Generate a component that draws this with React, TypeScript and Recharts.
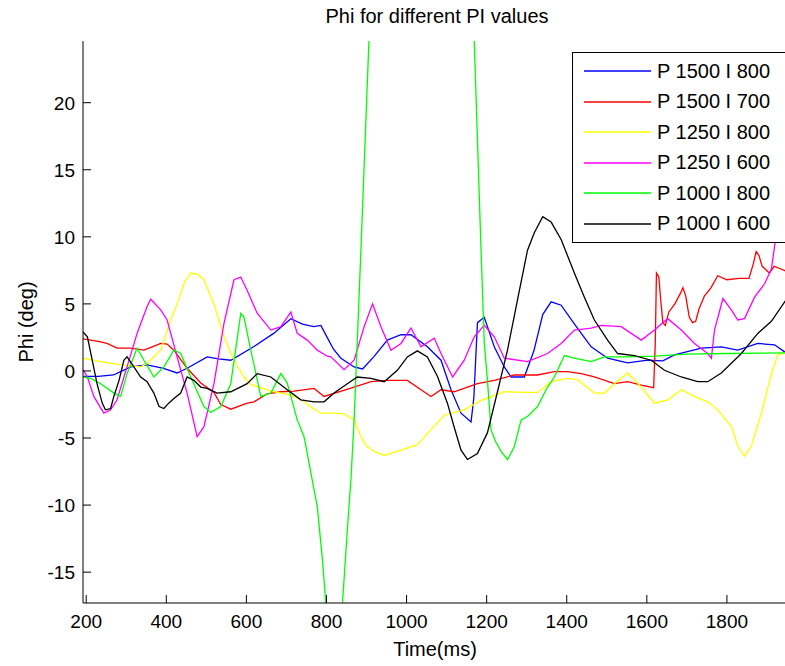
import { LineChart, Line, XAxis, YAxis, Legend } from "recharts";

// [time (ms), phi (deg)]
const p1500i800: [number, number][] = [
  [192, -0.4], [230, -0.4], [268, -0.3], [290, 0.0], [311, 0.3], [352, 0.45], [393, 0.2],
  [427, -0.15], [452, 0.2], [502, 1.05], [530, 0.9], [561, 0.8], [618, 1.8], [668, 2.8],
  [711, 3.9], [740, 3.5], [768, 3.3], [786, 3.4], [800, 2.6], [818, 1.6], [836, 0.95],
  [869, 0.3], [890, 0.15], [918, 1.05], [952, 2.3], [986, 2.7], [1011, 2.7], [1052, 1.8],
  [1086, 0.8], [1111, -1.4], [1136, -3.15], [1161, -3.8], [1168, -2.0], [1177, 3.6],
  [1194, 4.0], [1219, 1.8], [1244, 0.3], [1261, -0.45], [1294, -0.45], [1318, 1.5],
  [1340, 4.2], [1361, 5.15], [1386, 4.9], [1418, 3.55], [1461, 1.8], [1502, 0.95],
  [1552, 0.6], [1602, 0.8], [1640, 0.75], [1669, 1.2], [1736, 1.7], [1786, 1.8],
  [1827, 1.55], [1877, 2.05], [1919, 1.95], [1950, 1.3],
];

const p1500i700: [number, number][] = [
  [192, 2.4], [230, 2.2], [252, 2.05], [277, 1.7], [311, 1.7], [344, 1.55], [365, 1.8],
  [386, 2.05], [402, 2.0], [419, 1.55], [452, 0.2], [486, -0.9], [519, -1.6], [536, -2.5],
  [561, -2.85], [602, -2.4], [619, -2.3], [652, -1.7], [686, -1.55], [719, -1.5],
  [769, -1.3], [794, -1.9], [819, -1.67], [869, -1.2], [911, -0.8], [952, -0.7],
  [1002, -0.7], [1036, -1.4], [1061, -1.9], [1086, -1.4], [1119, -1.55], [1152, -1.2],
  [1177, -0.95], [1219, -0.7], [1269, -0.3], [1327, -0.3], [1369, -0.05], [1402, -0.05],
  [1436, -0.2], [1469, -0.45], [1519, -0.95], [1552, -0.8], [1586, -1.05], [1617, -1.25],
  [1621, 2.0], [1624, 7.3], [1630, 7.0], [1634, 5.5], [1640, 3.6], [1646, 3.4],
  [1655, 4.4], [1670, 5.0], [1684, 5.8], [1690, 6.2], [1697, 5.6], [1706, 4.0],
  [1714, 3.6], [1722, 3.7], [1730, 4.6], [1744, 5.6], [1760, 6.2], [1777, 7.1],
  [1800, 6.8], [1830, 6.9], [1855, 6.9], [1866, 8.0], [1873, 8.9], [1880, 8.6],
  [1888, 7.8], [1906, 7.3], [1918, 7.8], [1935, 7.6], [1950, 7.4],
];

const p1250i800: [number, number][] = [
  [192, 0.95], [236, 0.7], [286, 0.45], [336, 0.3], [352, 0.55], [386, 1.55], [411, 3.8],
  [427, 5.0], [445, 6.6], [461, 7.3], [478, 7.2], [494, 6.8], [519, 5.0], [544, 2.55],
  [569, 0.8], [594, -0.45], [611, -1.0], [661, -1.5], [711, -1.8], [740, -2.2],
  [761, -2.7], [786, -3.15], [819, -3.15], [844, -3.2], [869, -3.65], [886, -4.9],
  [900, -5.6], [919, -6.0], [944, -6.3], [986, -5.9], [1027, -5.5], [1052, -4.65],
  [1094, -3.3], [1144, -2.9], [1186, -2.2], [1244, -1.55], [1294, -1.6], [1327, -1.6],
  [1361, -0.8], [1402, -0.55], [1427, -0.65], [1469, -1.65], [1494, -1.65], [1519, -0.95],
  [1552, -0.15], [1577, -0.9], [1619, -2.4], [1652, -2.15], [1686, -1.4], [1719, -1.9],
  [1752, -2.3], [1777, -2.9], [1811, -4.15], [1827, -5.6], [1844, -6.35], [1861, -5.6],
  [1886, -3.15], [1911, -0.2], [1927, 1.2], [1950, 1.4],
];

const p1250i600: [number, number][] = [
  [192, 0.1], [203, -0.45], [219, -1.9], [244, -3.15], [261, -2.9], [277, -2.15],
  [302, 0.3], [327, 2.8], [352, 4.8], [361, 5.35], [386, 4.55], [402, 3.8], [427, 1.05],
  [452, -1.65], [477, -4.9], [494, -4.15], [519, -0.95], [544, 3.55], [569, 6.8],
  [586, 7.0], [602, 6.0], [627, 4.3], [661, 3.05], [686, 3.3], [711, 4.4], [727, 2.8],
  [752, 2.3], [777, 1.55], [802, 1.1], [811, 1.05], [844, 0.1], [869, 0.8], [894, 3.3],
  [915, 5.0], [936, 3.3], [961, 1.55], [986, 2.05], [1011, 3.2], [1036, 1.8],
  [1069, 2.45], [1086, 1.3], [1115, -0.45], [1144, 0.8], [1169, 2.55], [1194, 3.4],
  [1219, 2.55], [1244, 0.95], [1302, 0.7], [1352, 1.3], [1386, 2.05], [1419, 3.05],
  [1461, 3.2], [1486, 3.4], [1536, 3.3], [1586, 2.3], [1619, 3.05], [1652, 3.9],
  [1686, 3.05], [1719, 2.05], [1752, 1.3], [1761, 0.95], [1769, 3.05], [1790, 5.4],
  [1811, 4.55], [1827, 3.8], [1844, 3.9], [1869, 5.5], [1894, 6.5], [1911, 7.6],
  [1919, 9.3], [1925, 10.5], [1935, 12], [1950, 13],
];

const p1000i800: [number, number][] = [
  [192, -0.45], [211, -0.55], [236, -0.95], [269, -1.65], [286, -1.9], [302, -0.2],
  [327, 1.7], [344, 0.8], [369, -0.45], [394, 0.3], [419, 1.55], [436, 1.3], [461, -0.45],
  [494, -2.65], [511, -3.1], [536, -2.65], [561, -0.95], [586, 4.3], [594, 4.0],
  [611, 1.55], [636, -1.9], [661, -1.65], [686, -0.2], [702, -0.9], [727, -3.65],
  [744, -4.9], [761, -7.6], [777, -10.1], [790, -14.1], [798, -17.2], [815, -24],
  [828, -23], [840, -17.3], [852, -11.9], [861, -8.1], [869, -3.65], [873, -0.7],
  [886, 9.0], [906, 24.6], [930, 38], [980, 55], [1050, 60], [1120, 48], [1150, 34],
  [1169, 24.6], [1186, 9], [1194, 2.1], [1202, -0.7], [1211, -4.4], [1223, -5.3],
  [1236, -6.0], [1252, -6.6], [1269, -5.65], [1286, -3.65], [1302, -3.4], [1327, -2.65],
  [1352, -1.2], [1369, -0.45], [1394, 1.15], [1419, 0.95], [1461, 0.7], [1494, 1.05],
  [1544, 1.05], [1620, 1.1], [1700, 1.25], [1800, 1.3], [1950, 1.35],
];

const p1000i600: [number, number][] = [
  [192, 2.9], [203, 2.55], [215, 0.8], [227, -0.95], [240, -2.4], [248, -2.9], [261, -2.8],
  [269, -1.9], [282, -0.7], [294, 0.8], [302, 1.05], [319, 0.3], [336, -0.45], [352, -0.8],
  [369, -1.65], [382, -2.65], [394, -2.8], [406, -2.4], [419, -2.05], [436, -1.65],
  [452, -0.45], [469, -0.7], [486, -1.2], [502, -1.3], [527, -1.65], [561, -1.55],
  [602, -0.95], [627, -0.2], [661, -0.45], [702, -1.4], [736, -2.15], [769, -2.3],
  [794, -2.3], [819, -1.65], [852, -0.95], [877, -0.45], [911, -0.55], [944, -0.8],
  [977, 0.05], [1002, 1.05], [1027, 1.5], [1052, 1.05], [1077, -0.4], [1102, -2.4],
  [1119, -4.2], [1136, -5.9], [1152, -6.6], [1177, -6.15], [1202, -4.6], [1227, -1.55],
  [1252, 1.55], [1277, 5.3], [1302, 9.0], [1319, 10.3], [1340, 11.5], [1361, 11.1],
  [1386, 9.8], [1419, 7.3], [1444, 5.5], [1469, 3.8], [1502, 2.3], [1527, 1.3],
  [1569, 1.15], [1611, 0.8], [1644, 0.05], [1686, -0.45], [1727, -0.8], [1752, -0.8],
  [1786, -0.15], [1836, 1.3], [1877, 2.8], [1911, 3.7], [1950, 5.4],
];

const series = [
  { name: "P 1500 I 800", color: "#0000ff", points: p1500i800 },
  { name: "P 1500 I 700", color: "#ff0000", points: p1500i700 },
  { name: "P 1250 I 800", color: "#ffff00", points: p1250i800 },
  { name: "P 1250 I 600", color: "#ff00ff", points: p1250i600 },
  { name: "P 1000 I 800", color: "#00ff00", points: p1000i800 },
  { name: "P 1000 I 600", color: "#000000", points: p1000i600 },
];

const xTicks = [200, 400, 600, 800, 1000, 1200, 1400, 1600, 1800];
const yTicks = [-15, -10, -5, 0, 5, 10, 15, 20];

const FONT = '"Liberation Sans", Arial, sans-serif';

const BottomTick = (props: any) => {
  const { x, y, payload } = props;
  return (
    <g>
      <line x1={x} x2={x} y1={y} y2={y - 8} stroke="#000" />
      <text x={x} y={y + 25} textAnchor="middle" fontSize={19} fill="#000" fontFamily={FONT}>
        {payload.value}
      </text>
    </g>
  );
};

const TopTick = (props: any) => {
  const { x, y } = props;
  return <line x1={x} x2={x} y1={y} y2={y + 8} stroke="#000" />;
};

const LeftTick = (props: any) => {
  const { x, y, payload } = props;
  return (
    <g>
      <line x1={x} x2={x + 8} y1={y} y2={y} stroke="#000" />
      <text x={x - 8} y={y} dy="0.36em" textAnchor="end" fontSize={19} fill="#000" fontFamily={FONT}>
        {payload.value}
      </text>
    </g>
  );
};

// legend keeps the plotting order (MATLAB style)
const renderLegend = () => (
  <div
    style={{
      background: "#fff",
      border: "1px solid #000",
      padding: "3px 0",
      width: 240,
      fontFamily: FONT,
    }}
  >
    {series.map((s) => (
      <div key={s.name} style={{ height: 30.5, display: "flex", alignItems: "center" }}>
        <svg width={78} height={6} style={{ display: "block" }}>
          <line x1={11} x2={78} y1={3} y2={3} stroke={s.color} strokeWidth={1.5} />
        </svg>
        <span style={{ marginLeft: 6, fontSize: 20, color: "#000" }}>{s.name}</span>
      </div>
    ))}
  </div>
);

export default function App() {
  return (
    <div
      style={{
        position: "absolute",
        left: 0,
        top: 0,
        width: 785,
        height: 666,
        overflow: "hidden",
        background: "#fff",
        fontFamily: FONT,
      }}
    >
      <div
        style={{
          position: "absolute",
          left: 85,
          width: 704,
          top: 6,
          textAlign: "center",
          fontSize: 20,
          lineHeight: "20px",
          color: "#000",
        }}
      >
        Phi for different PI values
      </div>
      <LineChart width={800} height={666} margin={{ top: 41, right: 13, bottom: 0, left: 0 }}>
        <XAxis
          type="number"
          dataKey="t"
          domain={[192, 1950]}
          ticks={xTicks}
          allowDataOverflow
          height={63}
          tickSize={0}
          tickMargin={0}
          tick={BottomTick}
          axisLine={{ stroke: "#000" }}
          tickLine={false}
          label={{
            content: (p: any) => {
              const vb = p.viewBox;
              return (
                <text x={vb.x + vb.width / 2} y={656} textAnchor="middle" fontSize={20} fill="#000" fontFamily={FONT}>
                  Time(ms)
                </text>
              );
            },
          }}
        />
        <XAxis
          xAxisId="top"
          orientation="top"
          type="number"
          dataKey="t"
          domain={[192, 1950]}
          ticks={xTicks}
          allowDataOverflow
          height={0}
          tickSize={0}
          tickMargin={0}
          tick={TopTick}
          axisLine={{ stroke: "#000" }}
          tickLine={false}
        />
        <YAxis
          type="number"
          domain={[-17.3, 24.6]}
          ticks={yTicks}
          allowDataOverflow
          width={83}
          tickSize={0}
          tickMargin={0}
          tick={LeftTick}
          axisLine={{ stroke: "#000" }}
          tickLine={false}
          label={{
            content: (p: any) => {
              const vb = p.viewBox;
              const cy = vb.y + vb.height / 2;
              return (
                <text
                  transform={`translate(33, ${cy}) rotate(-90)`}
                  textAnchor="middle"
                  fontSize={20}
                  fill="#000"
                  fontFamily={FONT}
                >
                  Phi (deg)
                </text>
              );
            },
          }}
        />
        <Legend
          layout="vertical"
          align="center"
          verticalAlign="middle"
          content={renderLegend}
          wrapperStyle={{ left: 572, top: 52, width: 240 }}
        />
        {series.map((s) => (
          <Line
            key={s.name}
            name={s.name}
            data={s.points.map(([t, v]) => ({ t, v }))}
            dataKey="v"
            type="linear"
            stroke={s.color}
            strokeWidth={1.3}
            dot={false}
            activeDot={false}
            isAnimationActive={false}
          />
        ))}
      </LineChart>
    </div>
  );
}
